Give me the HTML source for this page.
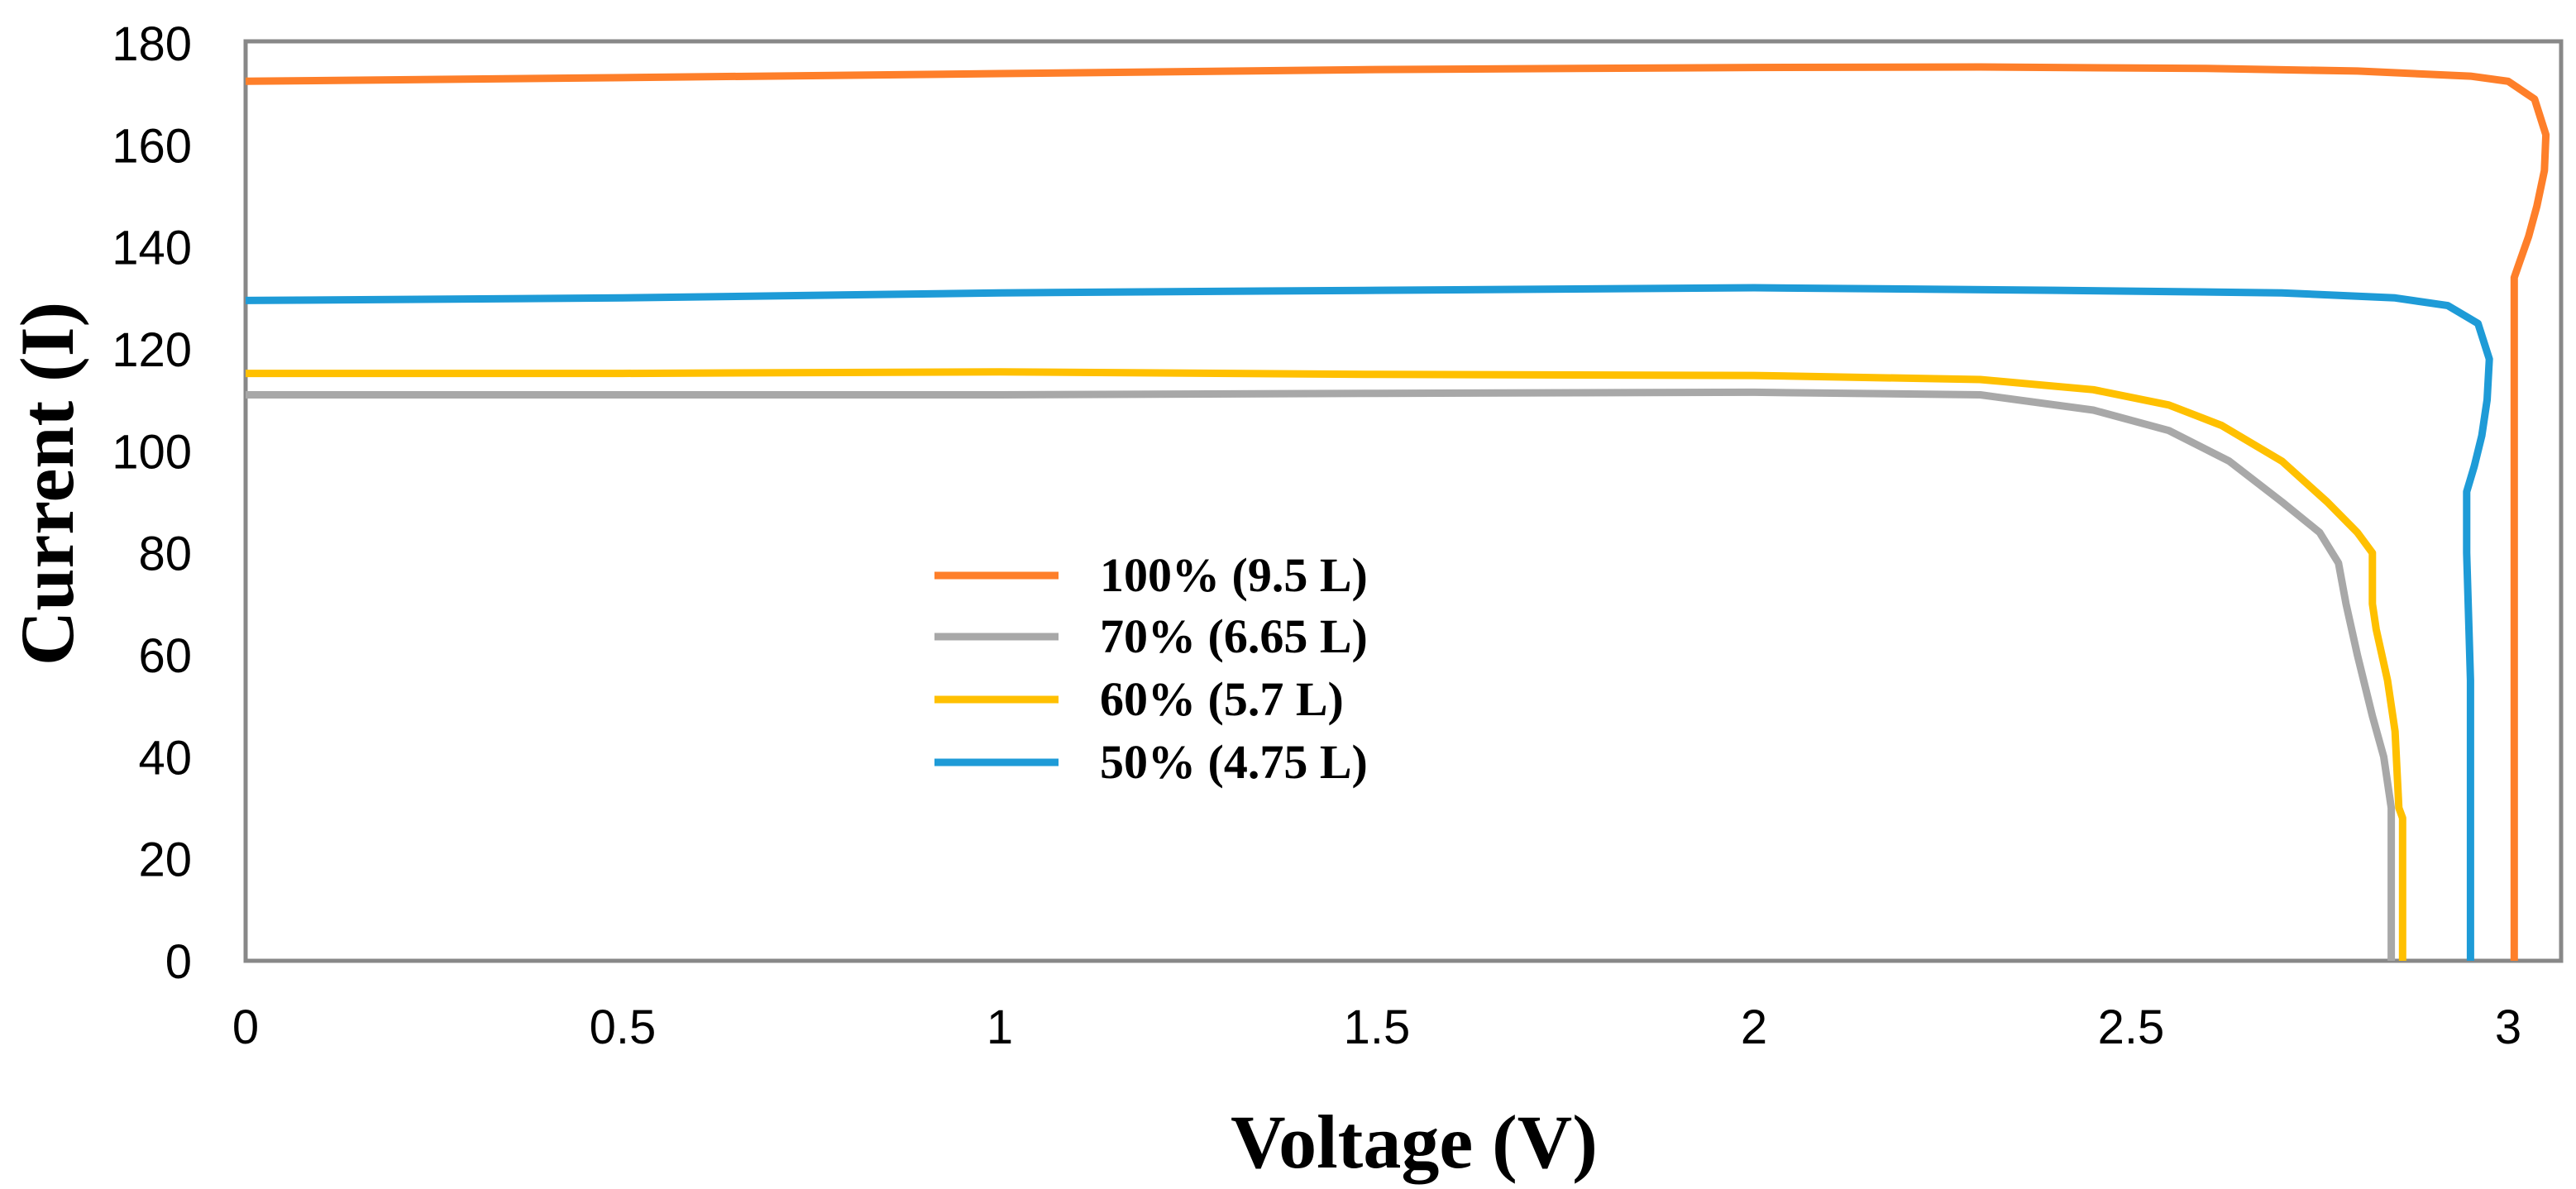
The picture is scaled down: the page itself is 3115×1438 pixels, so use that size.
<!DOCTYPE html>
<html><head><meta charset="utf-8"><style>
html,body{margin:0;padding:0;background:#fff;width:3115px;height:1438px;overflow:hidden}
svg{display:block}
</style></head><body>
<svg id="chart" width="3115" height="1438" viewBox="0 0 3115 1438" xmlns="http://www.w3.org/2000/svg"></svg>
<script>
const xTicks=[0,0.5,1,1.5,2,2.5,3];
const xTickLabels=["0","0.5","1","1.5","2","2.5","3"];
const yTicks=[0,20,40,60,80,100,120,140,160,180];
const seriesNames=["100% (9.5 L)","70% (6.65 L)","60% (5.7 L)","50% (4.75 L)"];
const seriesColors=["#fe7f2a","#a8a8a8","#ffc000","#1e9bd7"];
const orangeV=[0,0.5,1,1.5,2,2.3,2.6,2.8,2.95,3.0,3.035,3.05,3.048,3.038,3.027,3.015,3.008,3.008];
const orangeI=[172.5,173.2,174,174.8,175.2,175.3,175,174.5,173.5,172.5,169,162,155,148,142,137,134,0];
const grayV=[0,1,1.5,2,2.3,2.45,2.55,2.63,2.7,2.75,2.775,2.785,2.8,2.82,2.835,2.845,2.845];
const grayI=[111,111,111.3,111.5,111,108,104,98,90,84,78,70,60,48,40,30,0];
const yellowV=[0,0.5,1,1.5,2,2.3,2.45,2.55,2.62,2.7,2.76,2.8,2.82,2.82,2.825,2.84,2.85,2.855,2.86,2.86];
const yellowI=[115.2,115.2,115.5,115,114.8,114,112,109,105,98,90,84,80,70,65,55,45,30,28,0];
const blueV=[0,0.5,1,1.5,2,2.4,2.7,2.85,2.92,2.96,2.975,2.972,2.965,2.955,2.945,2.945,2.95,2.95];
const blueI=[129.5,130,131,131.5,132,131.5,131,130,128.5,125,118,110,103,97,92,80,55,0];

const svg=document.getElementById('chart');
const NS='http://www.w3.org/2000/svg';
const L=297,R=3097,T=50,B=1162,X0=0,PXU=912,YMAX=180;
const xs=v=>L+(v-X0)*PXU;
const ys=v=>B-(v/YMAX)*(B-T-2);
function mk(tag,attrs,parent){const e=document.createElementNS(NS,tag);for(const k in attrs)e.setAttribute(k,attrs[k]);(parent||svg).appendChild(e);return e;}

const frame=mk('rect',{x:L,y:T,width:R-L,height:B-T,fill:'none',stroke:'#888',"stroke-width":5});



yTicks.forEach(v=>{
  const t=mk('text',{x:232,y:ys(v)+21,'text-anchor':'end','font-family':'Liberation Sans, sans-serif','font-size':58,fill:'#000'});
  t.textContent=String(v);
  
  
});
xTicks.forEach((v,i)=>{
  const t=mk('text',{x:xs(v),y:1262,'text-anchor':'middle','font-family':'Liberation Sans, sans-serif','font-size':58,fill:'#000'});
  t.textContent=xTickLabels[i];
  
  
});

const seriesV=[orangeV,grayV,yellowV,blueV];
const seriesI=[orangeI,grayI,yellowI,blueI];
const order=[1,2,3,0];
order.forEach(s=>{
  const pts=seriesV[s].map((v,i)=>xs(v).toFixed(1)+','+ys(seriesI[s][i]).toFixed(1)).join(' ');
  const p=mk('polyline',{points:pts,fill:'none',stroke:seriesColors[s],'stroke-width':9,'stroke-linejoin':'round','stroke-linecap':'butt'});
  
  
});

const legYs=[696,770,846,922];
seriesNames.forEach((n,i)=>{
  const g=mk('g',{});
  
  
  mk('line',{x1:1130,x2:1280,y1:legYs[i],y2:legYs[i],stroke:seriesColors[i],'stroke-width':9},g);
  const t=mk('text',{x:1330,y:legYs[i]+19,'font-family':'Liberation Serif, serif','font-weight':'bold','font-size':58,fill:'#000'},g);
  t.textContent=n;
});

const xt=mk('text',{x:1710,y:1412,'text-anchor':'middle','font-family':'Liberation Serif, serif','font-weight':'bold','font-size':92,fill:'#000'});
xt.textContent='Voltage (V)';


const yt=mk('text',{x:0,y:0,'text-anchor':'middle','font-family':'Liberation Serif, serif','font-weight':'bold','font-size':92,fill:'#000',transform:'translate(88,585) rotate(-90)','xml:space':'preserve'});
yt.textContent='Current  (I)';


</script>
</body></html>
